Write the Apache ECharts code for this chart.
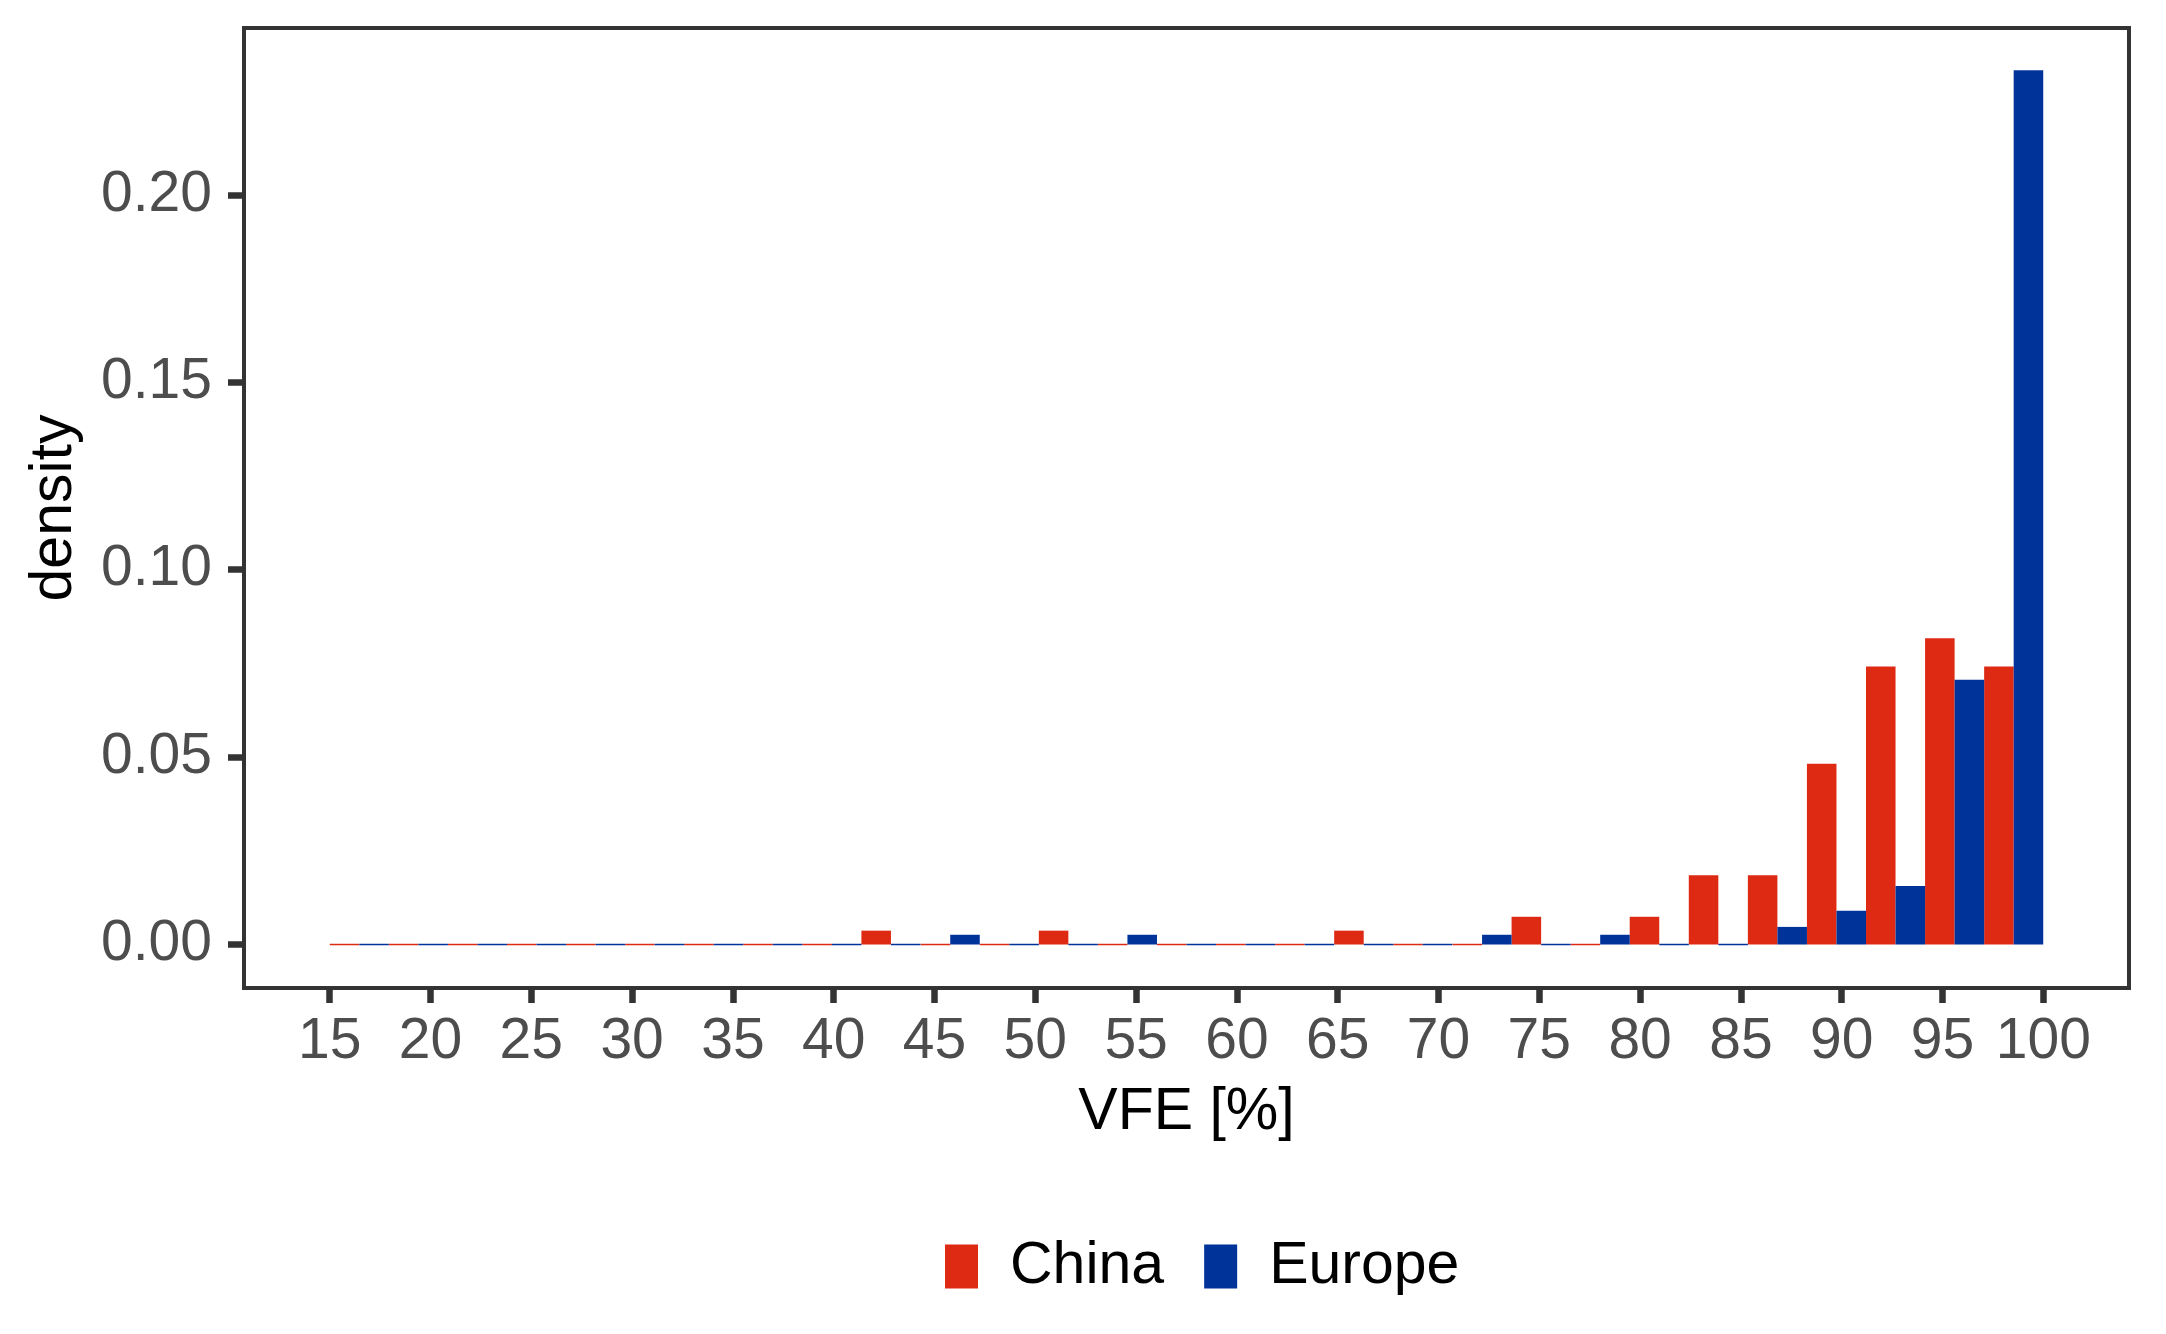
<!DOCTYPE html>
<html>
<head>
<meta charset="utf-8">
<title>VFE density</title>
<script src="https://cdn.jsdelivr.net/npm/echarts@6/dist/echarts.min.js"></script>
<style>
    html, body {margin: 0; padding: 0; background: #fff;}
    #chart {width: 2166px; height: 1334px;}
</style>
</head>
<body>
<div id="chart"></div>
<script>
// bin centres of the histogram (VFE %)
var binCenters = [16.47, 19.40, 22.33, 25.26, 28.19, 31.12, 34.05, 36.98, 39.91, 42.84,
    45.78, 48.71, 51.64, 54.57, 57.50, 60.43, 63.36, 66.29, 69.22, 72.16,
    75.09, 78.02, 80.95, 83.88, 86.81, 89.74, 92.67, 95.60, 98.53];
var binWidth = 2.931;

var chinaDensity = [0, 0, 0, 0, 0, 0, 0, 0, 0, 0.0037,
    0, 0, 0.0037, 0, 0, 0, 0, 0.0037, 0, 0,
    0.0074, 0, 0.0074, 0.0185, 0.0185, 0.0482, 0.0742, 0.0817, 0.0742];
var europeDensity = [0, 0, 0, 0, 0, 0, 0, 0, 0, 0,
    0.0026, 0, 0, 0.0026, 0, 0, 0, 0, 0, 0.0026,
    0, 0.0026, 0, 0, 0.0047, 0.0090, 0.0156, 0.0706, 0.2332];

var xTicks = [15, 20, 25, 30, 35, 40, 45, 50, 55, 60, 65, 70, 75, 80, 85, 90, 95, 100];
var yTicks = [0, 0.05, 0.10, 0.15, 0.20];

var colors = ['#DE2A13', '#003399'];
var font = '"Liberation Sans", Arial, Helvetica, sans-serif';

function toPairs(values) {
    var out = [];
    for (var i = 0; i < binCenters.length; i++) {
        out.push([binCenters[i], values[i]]);
    }
    return out;
}

// side: 0 = left half of the bin, 1 = right half (dodged)
function dodgeBar(side) {
    return function (params, api) {
        var c = api.value(0);
        var v = api.value(1);
        var x0 = side === 0 ? c - binWidth / 2 : c;
        var x1 = side === 0 ? c : c + binWidth / 2;
        var top = api.coord([x0, v]);
        var base = api.coord([x1, 0]);
        var y = top[1];
        var h = base[1] - top[1];
        if (h < 1.5) {
            y = base[1] - 0.75;
            h = 1.5;
        }
        return {
            type: 'rect',
            shape: {x: top[0], y: y, width: base[0] - top[0], height: h},
            style: {fill: api.visual('color')}
        };
    };
}

var myChart = echarts.init(document.getElementById('chart'));
var option = {
    animation: false,
    color: colors,
    textStyle: {fontFamily: font},
    grid: {
        left: 244,
        right: 37,
        top: 28,
        bottom: 346,
        show: true,
        borderColor: '#333333',
        borderWidth: 4,
        backgroundColor: '#fff'
    },
    legend: {
        data: [{name: 'China', icon: 'rect'}, {name: 'Europe', icon: 'rect'}],
        left: 940,
        top: 1232,
        itemWidth: 33,
        itemHeight: 44,
        itemGap: 40,
        textStyle: {fontSize: 59, color: '#000', fontFamily: font, padding: [0, 0, 0, 27]}
    },
    xAxis: {
        type: 'value',
        position: 'bottom',
        min: 10.75,
        max: 104.25,
        name: 'VFE [%]',
        nameLocation: 'middle',
        nameGap: 95,
        nameTextStyle: {fontSize: 59, color: '#000', fontFamily: font},
        axisLine: {show: false, onZero: false},
        splitLine: {show: false},
        axisTick: {
            show: true,
            inside: false,
            customValues: xTicks,
            length: 15,
            lineStyle: {color: '#333333', width: 6.5}
        },
        axisLabel: {
            customValues: xTicks,
            fontSize: 57,
            color: '#4D4D4D',
            margin: 26,
            fontFamily: font
        }
    },
    yAxis: {
        type: 'value',
        min: -0.0116,
        max: 0.2445,
        name: 'density',
        nameLocation: 'middle',
        nameRotate: 90,
        nameGap: 160,
        nameTextStyle: {fontSize: 59, color: '#000', fontFamily: font},
        axisLine: {show: false, onZero: false},
        splitLine: {show: false},
        axisTick: {
            show: true,
            inside: false,
            customValues: yTicks,
            length: 16,
            lineStyle: {color: '#333333', width: 6.5}
        },
        axisLabel: {
            customValues: yTicks,
            fontSize: 57,
            color: '#4D4D4D',
            margin: 32,
            fontFamily: font,
            formatter: function (v) {
                return v.toFixed(2);
            }
        }
    },
    series: [
        {
            name: 'China',
            type: 'custom',
            renderItem: dodgeBar(0),
            encode: {x: 0, y: 1},
            data: toPairs(chinaDensity)
        },
        {
            name: 'Europe',
            type: 'custom',
            renderItem: dodgeBar(1),
            encode: {x: 0, y: 1},
            data: toPairs(europeDensity)
        }
    ]
};
myChart.setOption(option, true);
</script>
</body>
</html>
